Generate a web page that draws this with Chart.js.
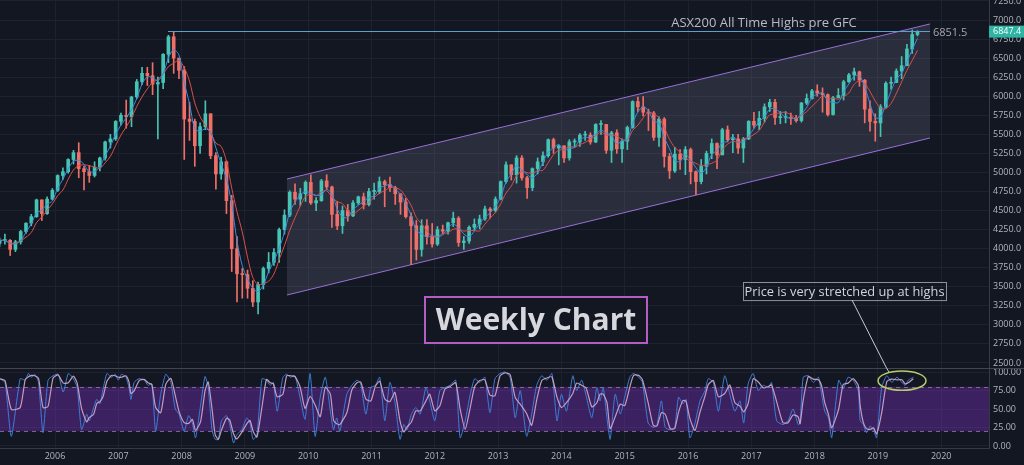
<!DOCTYPE html>
<html>
<head>
<meta charset="utf-8">
<script src="https://cdn.jsdelivr.net/npm/chart.js@4.4.1/dist/chart.umd.min.js"></script>
<style>
  body { margin: 0; background: #131722; }
  #wrap { position: relative; width: 1024px; height: 465px; overflow: hidden; }
  canvas { position: absolute; left: 0; }
  #priceChart { top: 0; }
  #stochChart { top: 368px; }
</style>
</head>
<body>
<div id="wrap">
  <canvas id="priceChart" width="1024" height="368"></canvas>
  <canvas id="stochChart" width="1024" height="97"></canvas>
</div>
<script>
// ASX200, velas mensuales desde feb 2005 hasta ago 2019
const firstMonth = 2005 + 1 / 12;
const firstOpen = 4070;

const closes = [
  4108, 4109, 3990, 4090, 4225, 4335, 4420, 4640, 4460, 4650, 4765,
  4960, 5010, 5170, 5260, 5050, 5010, 4960, 5070, 5190, 5400, 5440, 5670,
  5750, 5730, 5990, 6190, 6300, 6270, 6160, 6180, 6550, 6780, 6500, 6340,
  5700, 5670, 5350, 5600, 5770, 5220, 4980, 5140, 4630, 4000, 3670, 3660,
  3480, 3300, 3530, 3740, 3820, 3950, 4250, 4440, 4740, 4650, 4720, 4870,
  4600, 4630, 4890, 4810, 4450, 4300, 4500, 4430, 4600, 4680, 4580, 4750,
  4750, 4880, 4840, 4800, 4720, 4610, 4420, 4300, 3990, 4300, 4160, 4060,
  4250, 4230, 4340, 4400, 4080, 4100, 4280, 4320, 4390, 4520, 4500, 4650,
  4880, 5100, 4970, 5190, 4930, 4800, 5050, 5140, 5220, 5430, 5320, 5350,
  5190, 5400, 5400, 5490, 5490, 5400, 5630, 5630, 5290, 5520, 5310, 5410,
  5590, 5930, 5860, 5790, 5780, 5460, 5700, 5210, 5020, 5240, 5170, 5300,
  5010, 4880, 5080, 5250, 5380, 5230, 5560, 5430, 5440, 5320, 5440, 5670,
  5620, 5710, 5860, 5920, 5720, 5720, 5720, 5710, 5680, 5910, 5970, 6070,
  6040, 6020, 5760, 5980, 6010, 6190, 6280, 6320, 6210, 5830, 5670, 5650,
  5860, 6170, 6180, 6330, 6400, 6620, 6810, 6847
];
const highs = [
  4140, 4190, 4120, 4110, 4240, 4340, 4450, 4650, 4640, 4680, 4790,
  4970, 5060, 5180, 5290, 5390, 5080, 5090, 5140, 5200, 5410, 5500, 5680,
  5780, 5950, 6000, 6220, 6380, 6380, 6440, 6250, 6560, 6800, 6851, 6480,
  6390, 5920, 5700, 5650, 5940, 5760, 5260, 5200, 5150, 4700, 4160, 3740,
  3720, 3580, 3560, 3760, 3950, 4000, 4270, 4510, 4760, 4850, 4790, 4890,
  4970, 4670, 4910, 4970, 4820, 4620, 4560, 4580, 4630, 4690, 4730, 4790,
  4860, 4940, 4900, 4940, 4820, 4680, 4660, 4470, 4370, 4380, 4380, 4330,
  4290, 4310, 4350, 4480, 4420, 4160, 4300, 4390, 4440, 4560, 4540, 4680,
  4890, 5140, 5100, 5220, 5220, 4950, 5060, 5190, 5270, 5440, 5450, 5360,
  5350, 5430, 5440, 5510, 5540, 5520, 5640, 5680, 5630, 5540, 5560, 5440,
  5610, 5940, 5990, 5996, 5830, 5800, 5730, 5720, 5250, 5330, 5300, 5340,
  5320, 5020, 5170, 5280, 5440, 5390, 5580, 5610, 5500, 5500, 5460, 5680,
  5790, 5800, 5900, 5960, 5960, 5800, 5800, 5780, 5750, 5920, 6030, 6090,
  6150, 6110, 6030, 6000, 6100, 6210, 6300, 6370, 6330, 6220, 5940, 5770,
  5890, 6190, 6250, 6360, 6520, 6680, 6870, 6860
];
const lows = [
  4030, 4060, 3910, 3960, 4060, 4200, 4300, 4410, 4370, 4450, 4640,
  4750, 4910, 4990, 5110, 4930, 4770, 4870, 4940, 5020, 5160, 5320, 5420,
  5620, 5580, 5600, 5970, 6150, 6140, 6020, 5440, 6100, 6440, 6300, 6230,
  5170, 5420, 5080, 5250, 5560, 5180, 4780, 4910, 4460, 3700, 3300, 3350,
  3350, 3240, 3145, 3470, 3680, 3780, 3820, 4190, 4420, 4580, 4560, 4620,
  4580, 4500, 4620, 4780, 4280, 4250, 4200, 4360, 4420, 4580, 4520, 4560,
  4650, 4720, 4550, 4750, 4580, 4450, 4400, 3790, 3850, 3900, 4060, 4020,
  4040, 4190, 4190, 4290, 4030, 3990, 4070, 4240, 4260, 4370, 4400, 4480,
  4640, 4860, 4900, 4860, 4900, 4660, 4760, 4980, 5090, 5200, 5250, 5100,
  5130, 5160, 5330, 5340, 5420, 5370, 5390, 5500, 5250, 5130, 5250, 5130,
  5300, 5580, 5800, 5740, 5550, 5420, 5340, 5070, 4920, 5000, 5040, 4970,
  4850, 4710, 4850, 4980, 5180, 5050, 5240, 5400, 5260, 5250, 5130, 5430,
  5580, 5560, 5660, 5800, 5630, 5640, 5650, 5630, 5660, 5660, 5890, 5960,
  6000, 5790, 5740, 5750, 5990, 5950, 6180, 6210, 6130, 5650, 5540, 5410,
  5470, 5850, 6090, 6180, 6230, 6400, 6560, 6790
];

// Estocástico (puntos de giro)
const stochYears = [
  2005.13, 2005.21, 2005.31, 2005.45, 2005.53, 2005.58, 2005.63, 2005.68, 2005.74, 2005.81, 2005.89, 2005.97,
  2006.05, 2006.13, 2006.21, 2006.29, 2006.35, 2006.42, 2006.50, 2006.54, 2006.61, 2006.66, 2006.71, 2006.76,
  2006.82, 2006.89, 2006.95, 2007.00, 2007.05, 2007.12, 2007.17, 2007.20, 2007.25, 2007.33, 2007.41, 2007.47,
  2007.53, 2007.59, 2007.67, 2007.75, 2007.83, 2007.90, 2007.96, 2008.04, 2008.11, 2008.17, 2008.22, 2008.30,
  2008.37, 2008.42, 2008.48, 2008.53, 2008.58, 2008.63, 2008.71, 2008.76, 2008.82, 2008.87, 2008.95, 2009.03,
  2009.08, 2009.13, 2009.19, 2009.27, 2009.34, 2009.40, 2009.45, 2009.51, 2009.60, 2009.66, 2009.72, 2009.79,
  2009.87, 2009.95, 2010.03, 2010.11, 2010.19, 2010.27, 2010.35, 2010.40, 2010.45, 2010.50, 2010.61, 2010.69,
  2010.77, 2010.83, 2010.91, 2010.99, 2011.06, 2011.13, 2011.21, 2011.29, 2011.37, 2011.45, 2011.51, 2011.56,
  2011.63, 2011.70, 2011.77, 2011.86, 2011.92, 2012.00, 2012.08, 2012.16, 2012.24, 2012.33, 2012.40, 2012.48,
  2012.56, 2012.63, 2012.71, 2012.79, 2012.87, 2012.95, 2013.03, 2013.11, 2013.19, 2013.27, 2013.35, 2013.45,
  2013.53, 2013.61, 2013.69, 2013.77, 2013.85, 2013.93, 2014.00, 2014.08, 2014.18, 2014.24, 2014.32, 2014.39,
  2014.48, 2014.56, 2014.61, 2014.66, 2014.72, 2014.77, 2014.85, 2014.93, 2015.00, 2015.08, 2015.14, 2015.22,
  2015.28, 2015.37, 2015.45, 2015.51, 2015.58, 2015.64, 2015.72, 2015.79, 2015.85, 2015.92, 2015.97, 2016.03,
  2016.11, 2016.19, 2016.27, 2016.32, 2016.40, 2016.48, 2016.58, 2016.66, 2016.74, 2016.82, 2016.88, 2016.95,
  2017.03, 2017.11, 2017.19, 2017.27, 2017.32, 2017.40, 2017.50, 2017.58, 2017.66, 2017.74, 2017.77, 2017.82,
  2017.90, 2017.98, 2018.06, 2018.11, 2018.16, 2018.22, 2018.27, 2018.38, 2018.45, 2018.53, 2018.61, 2018.69,
  2018.72, 2018.77, 2018.82, 2018.88, 2018.93, 2018.98, 2019.06, 2019.14, 2019.22, 2019.30, 2019.38, 2019.43,
  2019.48, 2019.56
];
const stochK = [
  91, 86, 13, 91, 89, 98, 93, 97, 86, 18, 89, 95,
  97, 73, 98, 91, 79, 22, 43, 34, 52, 63, 57, 77,
  98, 93, 97, 89, 97, 93, 79, 63, 86, 91, 89, 82,
  84, 20, 70, 97, 86, 50, 43, 20, 41, 31, 11, 55,
  94, 79, 22, 9, 9, 34, 41, 29, 4, 15, 22, 38,
  31, 9, 15, 91, 89, 82, 86, 47, 93, 97, 93, 95,
  66, 36, 98, 13, 66, 93, 47, 22, 38, 20, 70, 82,
  89, 84, 43, 79, 82, 93, 34, 86, 59, 9, 29, 22,
  43, 52, 43, 79, 61, 34, 75, 79, 82, 89, 11, 34,
  70, 91, 86, 93, 45, 91, 98, 100, 93, 38, 75, 13,
  43, 82, 95, 89, 98, 34, 70, 47, 95, 75, 89, 68,
  38, 79, 61, 79, 38, 9, 70, 43, 66, 93, 98, 93,
  86, 31, 25, 29, 61, 25, 22, 25, 66, 57, 63, 11,
  31, 61, 75, 91, 86, 47, 95, 70, 47, 61, 31, 84,
  98, 75, 82, 79, 86, 34, 29, 34, 50, 29, 31, 93,
  95, 86, 93, 70, 47, 38, 11, 89, 77, 93, 89, 75,
  34, 29, 18, 27, 22, 11, 79, 95, 86, 93, 86, 82,
  89, 93
];

const yearTicks = [2006, 2007, 2008, 2009, 2010, 2011, 2012, 2013, 2014, 2015, 2016, 2017, 2018, 2019, 2020];
const priceTicks = [2500, 2750, 3000, 3250, 3500, 3750, 4000, 4250, 4500, 4750, 5000, 5250,
  5500, 5750, 6000, 6250, 6500, 6750, 7000, 7250];
const stochTicks = [0, 25, 50, 75, 100];

const lastPrice = 6847.4;
const gfcHigh = 6851.5;

// Anotaciones en unidades del gráfico (año, precio)
const gfcLine = { from: 2007.785, to: 2019.823 };
const channel = { x0: 2009.665, x1: 2019.823, upper0: 4914, upper1: 6948, lower0: 3392, lower1: 5452 };
const weeklyBox = { x0: 2011.845, x1: 2015.352, top: 3366, bottom: 2762 };
const noteBox = { x0: 2016.869, x1: 2020.076, top: 3563, bottom: 3326 };
const noteLine = { x0: 2018.591, y0: 3326, x1: 2019.136, x2: 2019.175 };
const noteRing = { x0: 2019.002, x1: 2019.760, top: 101.4, bottom: 75.3 };

const xMin = 2005.131;
const xMax = 2020.755;

const bg = '#131722';
const gridColor = '#1e2230';
const tickColor = '#b2b5be';
const upColor = '#45c3b3';
const downColor = '#ee7068';

const monthX = closes.map((_, i) => firstMonth + (i + 0.5) / 12);
const opens = closes.map((c, i) => i === 0 ? firstOpen : closes[i - 1]);
const candleColors = closes.map((c, i) => c >= opens[i] ? upColor : downColor);

function movingAverage(values, n) {
  return values.map((_, i) => {
    const part = values.slice(Math.max(0, i - n + 1), i + 1);
    return part.reduce((a, b) => a + b, 0) / part.length;
  });
}
const maFast = movingAverage(closes, 3);
const maSlow = movingAverage(closes, 5);
const stochD = stochK.map((k, i) => i === 0 ? k : (k + stochK[i - 1]) / 2);

function fixedWidth(w) {
  return function (scale) {
    scale.width = w;
    scale.paddingTop = 0;
    scale.paddingBottom = 0;
  };
}
function fixedHeight(h) {
  return function (scale) {
    scale.height = h;
    scale.paddingLeft = 0;
    scale.paddingRight = 0;
  };
}
const setYearTicks = scale => { scale.ticks = yearTicks.map(v => ({ value: v })); };

const priceOverlay = {
  id: 'priceOverlay',
  beforeDatasetsDraw(chart) {
    const { ctx, scales: { x, y } } = chart;
    const px = v => x.getPixelForValue(v);
    const py = v => y.getPixelForValue(v);
    ctx.save();
    // canal
    ctx.beginPath();
    ctx.moveTo(px(channel.x0), py(channel.upper0));
    ctx.lineTo(px(channel.x1), py(channel.upper1));
    ctx.lineTo(px(channel.x1), py(channel.lower1));
    ctx.lineTo(px(channel.x0), py(channel.lower0));
    ctx.closePath();
    ctx.fillStyle = 'rgba(200, 190, 230, 0.13)';
    ctx.fill();
    ctx.strokeStyle = '#9a6fd8';
    ctx.lineWidth = 1;
    ctx.beginPath();
    ctx.moveTo(px(channel.x0), py(channel.upper0));
    ctx.lineTo(px(channel.x1), py(channel.upper1));
    ctx.moveTo(px(channel.x0), py(channel.lower0));
    ctx.lineTo(px(channel.x1), py(channel.lower1));
    ctx.stroke();
    ctx.restore();
  },
  afterDatasetsDraw(chart) {
    const { ctx, scales: { x, y } } = chart;
    const px = v => x.getPixelForValue(v);
    const py = v => y.getPixelForValue(v);
    ctx.save();
    // máximo pre GFC
    const hy = Math.round(py(gfcHigh)) + 0.5;
    ctx.strokeStyle = '#5c9fd2';
    ctx.lineWidth = 1;
    ctx.beginPath();
    ctx.moveTo(px(gfcLine.from), hy);
    ctx.lineTo(px(gfcLine.to), hy);
    ctx.stroke();

    ctx.fillStyle = '#b8bcc6';
    ctx.font = '13px "Open Sans"';
    ctx.textAlign = 'center';
    ctx.textBaseline = 'middle';
    ctx.fillText('ASX200 All Time Highs pre GFC', px(2017.20), py(6961));

    ctx.fillStyle = '#a3a6af';
    ctx.font = '11px "Open Sans"';
    ctx.textAlign = 'left';
    ctx.fillText(gfcHigh.toFixed(1), px(gfcLine.to) + 3, py(6829));

    // caja "Weekly Chart"
    const wx0 = px(weeklyBox.x0), wx1 = px(weeklyBox.x1);
    const wy0 = py(weeklyBox.top), wy1 = py(weeklyBox.bottom);
    ctx.fillStyle = bg;
    ctx.fillRect(wx0, wy0, wx1 - wx0, wy1 - wy0);
    ctx.strokeStyle = '#b45ec4';
    ctx.lineWidth = 2;
    ctx.strokeRect(wx0, wy0, wx1 - wx0, wy1 - wy0);
    ctx.fillStyle = '#d6d8de';
    ctx.font = 'bold 30px "Open Sans"';
    ctx.textAlign = 'center';
    ctx.fillText('Weekly Chart', (wx0 + wx1) / 2, (wy0 + wy1) / 2 + 1);

    // nota
    const nx0 = px(noteBox.x0), nx1 = px(noteBox.x1);
    const ny0 = py(noteBox.top), ny1 = py(noteBox.bottom);
    ctx.strokeStyle = '#8d9099';
    ctx.lineWidth = 1;
    ctx.strokeRect(Math.round(nx0) + 0.5, Math.round(ny0) + 0.5, nx1 - nx0, ny1 - ny0);
    ctx.fillStyle = '#d1d4dc';
    ctx.font = '12.8px "Open Sans"';
    ctx.fillText('Price is very stretched up at highs', (nx0 + nx1) / 2, (ny0 + ny1) / 2 + 1);

    ctx.strokeStyle = '#c8cad0';
    ctx.beginPath();
    ctx.moveTo(px(noteLine.x0), py(noteLine.y0));
    ctx.lineTo(px(noteLine.x1), chart.chartArea.bottom);
    ctx.stroke();

    // etiqueta del último precio
    const ly = py(lastPrice);
    ctx.fillStyle = '#2fb3a3';
    ctx.fillRect(chart.chartArea.right, ly - 6, 35, 12);
    ctx.fillStyle = '#ffffff';
    ctx.font = '9px "Open Sans"';
    ctx.textAlign = 'left';
    ctx.fillText(lastPrice.toFixed(1), chart.chartArea.right + 4, ly);
    ctx.restore();
  }
};

new Chart(document.getElementById('priceChart'), {
  type: 'bar',
  data: {
    datasets: [
      {
        type: 'line', label: 'MA rápida', order: 1,
        data: monthX.map((x, i) => ({ x, y: maFast[i] })),
        borderColor: '#3a8ee0', borderWidth: 1, pointRadius: 0, tension: 0.3
      },
      {
        type: 'line', label: 'MA lenta', order: 2,
        data: monthX.map((x, i) => ({ x, y: maSlow[i] })),
        borderColor: '#d9504c', borderWidth: 1, pointRadius: 0, tension: 0.3
      },
      {
        label: 'Cuerpo', order: 3, grouped: false,
        data: monthX.map((x, i) => ({ x, y: [opens[i], closes[i]] })),
        backgroundColor: candleColors, barThickness: 3, minBarLength: 1, borderWidth: 0
      },
      {
        label: 'Mecha', order: 4, grouped: false,
        data: monthX.map((x, i) => ({
          x, y: [Math.min(lows[i], opens[i], closes[i]), Math.max(highs[i], opens[i], closes[i])]
        })),
        backgroundColor: candleColors, barThickness: 1, borderWidth: 0
      }
    ]
  },
  options: {
    responsive: false,
    animation: false,
    layout: { padding: 0 },
    plugins: { legend: { display: false }, tooltip: { enabled: false } },
    scales: {
      x: {
        type: 'linear', min: xMin, max: xMax, offset: false,
        afterBuildTicks: setYearTicks,
        afterFit: fixedHeight(0),
        ticks: { display: false },
        grid: { color: gridColor, drawTicks: false, offset: false },
        border: { display: false }
      },
      y: {
        type: 'linear', position: 'right', min: 2434.3, max: 7262.4,
        afterBuildTicks: scale => { scale.ticks = priceTicks.map(v => ({ value: v })); },
        afterFit: fixedWidth(35),
        ticks: {
          color: tickColor, padding: 4, font: { size: 9, family: 'Open Sans' },
          callback: v => Number(v).toFixed(1)
        },
        grid: { color: gridColor, drawTicks: false },
        border: { display: true, color: '#363a45' }
      }
    }
  },
  plugins: [priceOverlay]
});

const stochOverlay = {
  id: 'stochOverlay',
  beforeDatasetsDraw(chart) {
    const { ctx, chartArea, scales: { x, y } } = chart;
    ctx.save();
    ctx.fillStyle = 'rgba(120, 50, 190, 0.4)';
    ctx.fillRect(chartArea.left, y.getPixelForValue(80), chartArea.right - chartArea.left,
      y.getPixelForValue(20) - y.getPixelForValue(80));
    ctx.strokeStyle = 'rgba(160, 135, 180, 0.7)';
    ctx.setLineDash([4, 4]);
    ctx.lineWidth = 1;
    [80, 20].forEach(v => {
      const yy = Math.round(y.getPixelForValue(v)) + 0.5;
      ctx.beginPath();
      ctx.moveTo(chartArea.left, yy);
      ctx.lineTo(chartArea.right, yy);
      ctx.stroke();
    });
    ctx.restore();
  },
  afterDatasetsDraw(chart) {
    const { ctx, chartArea, scales: { x, y } } = chart;
    ctx.save();
    ctx.strokeStyle = '#434651';
    ctx.lineWidth = 1;
    ctx.beginPath();
    ctx.moveTo(0, 0.5);
    ctx.lineTo(chart.width, 0.5);
    ctx.stroke();

    ctx.strokeStyle = '#c8cad0';
    ctx.beginPath();
    ctx.moveTo(x.getPixelForValue(noteLine.x1), 0);
    ctx.lineTo(x.getPixelForValue(noteLine.x2), y.getPixelForValue(100));
    ctx.stroke();

    const ex0 = x.getPixelForValue(noteRing.x0), ex1 = x.getPixelForValue(noteRing.x1);
    const ey0 = y.getPixelForValue(noteRing.top), ey1 = y.getPixelForValue(noteRing.bottom);
    ctx.strokeStyle = '#b7cc6a';
    ctx.lineWidth = 1.5;
    ctx.beginPath();
    ctx.ellipse((ex0 + ex1) / 2, (ey0 + ey1) / 2, (ex1 - ex0) / 2, (ey1 - ey0) / 2, 0, 0, Math.PI * 2);
    ctx.stroke();
    ctx.restore();
  }
};

new Chart(document.getElementById('stochChart'), {
  type: 'line',
  data: {
    datasets: [
      {
        label: '%D', order: 1,
        data: stochYears.map((x, i) => ({ x, y: stochD[i] })),
        borderColor: 'rgba(214, 168, 204, 0.9)', borderWidth: 1.2, pointRadius: 0, tension: 0.2
      },
      {
        label: '%K', order: 2,
        data: stochYears.map((x, i) => ({ x, y: stochK[i] })),
        borderColor: '#3d7fd8', borderWidth: 1, pointRadius: 0, tension: 0.2
      }
    ]
  },
  options: {
    responsive: false,
    animation: false,
    layout: { padding: 0 },
    plugins: { legend: { display: false }, tooltip: { enabled: false } },
    scales: {
      x: {
        type: 'linear', min: xMin, max: xMax,
        afterBuildTicks: setYearTicks,
        afterFit: fixedHeight(17),
        ticks: {
          color: tickColor, padding: 3, maxRotation: 0, autoSkip: false,
          font: { size: 9, family: 'Open Sans' }, callback: v => String(v)
        },
        grid: { color: gridColor, drawTicks: false },
        border: { display: true, color: '#363a45' }
      },
      y: {
        type: 'linear', position: 'right', min: -2.74, max: 105.48,
        afterBuildTicks: scale => { scale.ticks = stochTicks.map(v => ({ value: v })); },
        afterFit: fixedWidth(35),
        ticks: {
          color: tickColor, padding: 4, font: { size: 9, family: 'Open Sans' },
          callback: v => Number(v).toFixed(2)
        },
        grid: { color: gridColor, drawTicks: false },
        border: { display: true, color: '#363a45' }
      }
    }
  },
  plugins: [stochOverlay]
});
</script>
</body>
</html>
